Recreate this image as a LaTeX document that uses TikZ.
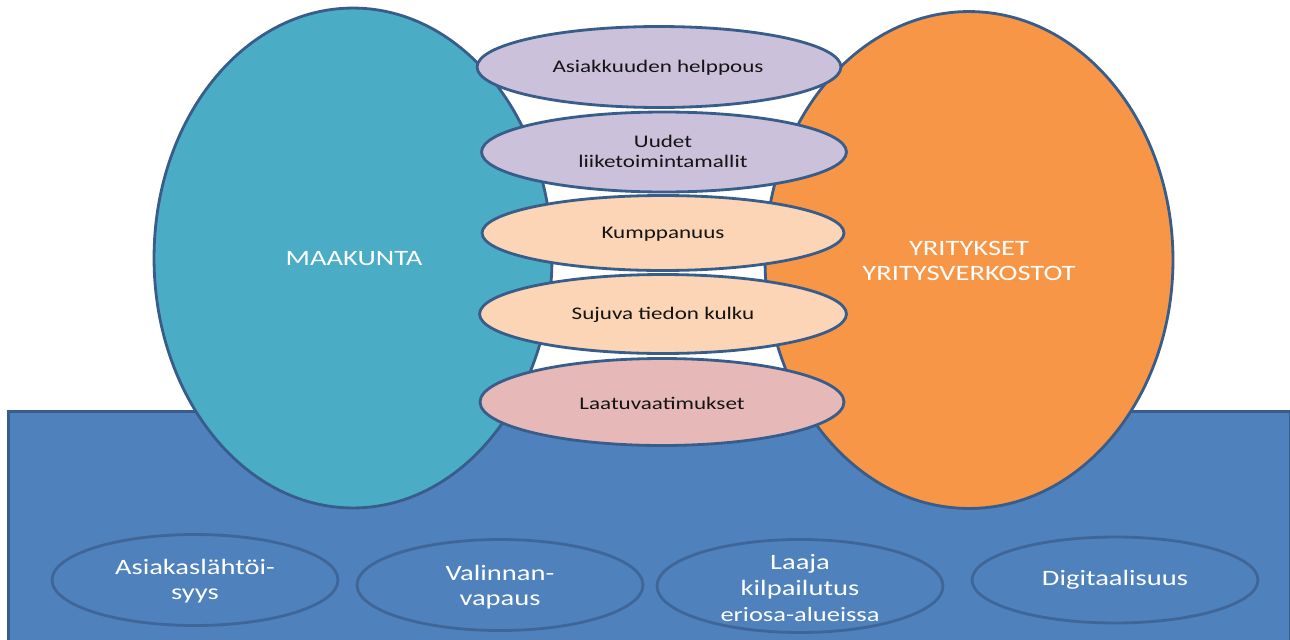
\documentclass[tikz,border=0pt]{standalone}
\usepackage{fontspec}
\setmainfont[FakeStretch=1.3]{Carlito}
\usetikzlibrary{shapes.geometric}
\definecolor{tealfill}{HTML}{4BACC6}
\definecolor{orngfill}{HTML}{F79646}
\definecolor{bluefill}{HTML}{4F81BD}
\definecolor{edgecol}{HTML}{385D8A}
\definecolor{lavfill}{HTML}{CCC1DA}
\definecolor{peachfill}{HTML}{FBD5B5}
\definecolor{rosefill}{HTML}{E6B9B8}
\definecolor{botedge}{HTML}{3F6698}
\definecolor{darktext}{HTML}{141414}
\begin{document}
\begin{tikzpicture}[x=0.02cm,y=-0.02cm,
  ell/.style={ellipse, draw=edgecol, line width=1.6pt, inner sep=0pt},
  botell/.style={ellipse, draw=botedge, line width=1.6pt, fill=bluefill, inner sep=0pt, minimum width=5.72cm},
  midtext/.style={text=darktext, align=center, font=\fontsize{10.1}{11.4}\selectfont},
  bigtext/.style={text=white, align=center, font=\fontsize{12.5}{14.6}\selectfont},
]
\useasboundingbox (0,0) rectangle (1290,639);
% base rectangle
\node[draw=edgecol, line width=1.8pt, fill=bluefill, anchor=north west,
      minimum width=25.64cm, minimum height=5cm, inner sep=0pt] (base) at (7,410) {};
% big ellipses
\node[ell, fill=tealfill, minimum width=7.96cm, minimum height=10cm] (maak) at (353,258) {};
\node[ell, fill=orngfill, minimum width=8.16cm, minimum height=9.94cm] (yrit) at (969,260) {};
\node[bigtext] (maakt) at (354,259) {MAAKUNTA};
\node[bigtext] (yritt) at (969,261) {YRITYKSET\\YRITYSVERKOSTOT};
% middle ellipses
\node[ell, fill=lavfill, minimum width=7.28cm, minimum height=1.62cm] (m1) at (659,67) {};
\node[ell, fill=lavfill, minimum width=7.3cm, minimum height=1.6cm] (m2) at (664,152) {};
\node[ell, fill=peachfill, minimum width=7.24cm, minimum height=1.5cm] (m3) at (663,233) {};
\node[ell, fill=peachfill, minimum width=7.34cm, minimum height=1.58cm] (m4) at (663,314) {};
\node[ell, fill=rosefill, minimum width=7.28cm, minimum height=1.74cm] (m5) at (662,402) {};
\node[midtext] (m1t) at (658,68) {Asiakkuuden helppous};
\node[midtext] (m2t) at (663,151) {Uudet\\liiketoimintamallit};
\node[midtext] (m3t) at (663,234) {Kumppanuus};
\node[midtext] (m4t) at (663,315) {Sujuva tiedon kulku};
\node[midtext] (m5t) at (662,403) {Laatuvaatimukset};
% bottom ellipses
\node[botell, minimum height=1.82cm] (b1) at (195,580) {};
\node[botell, minimum height=1.82cm] (b2) at (500,585) {};
\node[botell, minimum height=1.86cm] (b3) at (800,586) {};
\node[botell, minimum height=1.72cm] (b4) at (1115,580) {};
\node[bigtext] (b1t) at (195,581) {Asiakaslähtöi-\\syys};
\node[bigtext] (b2t) at (500,587) {Valinnan-\\vapaus};
\node[bigtext] (b3t) at (800,588) {Laaja\\kilpailutus\\{\fontsize{11.6}{14.6}\selectfont eriosa-alueissa}};
\node[bigtext] (b4t) at (1115,580) {Digitaalisuus};
\end{tikzpicture}
\end{document}
